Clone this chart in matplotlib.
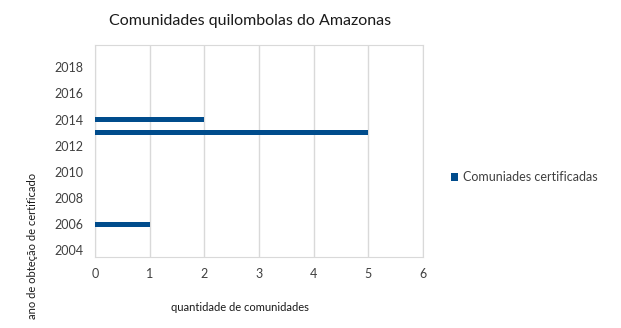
import matplotlib.pyplot as plt

# Quilombola communities certified per year
anos = [2006, 2013, 2014]
comunidades = [1, 5, 2]
anos_ticks = [2004, 2006, 2008, 2010, 2012, 2014, 2016, 2018]
x_ticks = [0, 1, 2, 3, 4, 5, 6]

plt.rcParams['font.family'] = ['Lato', 'DejaVu Sans']

fig = plt.figure(figsize=(6.21, 3.28), dpi=100)
ax = fig.add_axes([0.153, 0.2165, 0.528, 0.6463])

ax.barh(anos, comunidades, height=0.4, color='#004C8C',
        label='Comuniades certificadas', zorder=3)

ax.set_xlim(0, 6)
ax.set_ylim(2003.5, 2019.7)
ax.set_xticks(x_ticks)
ax.set_yticks(anos_ticks)
ax.tick_params(length=0, labelsize=9, colors='#404040', pad=8)
ax.grid(axis='x', color='#d9d9d9', linewidth=1, zorder=0)
for s in ax.spines.values():
    s.set_color('#d9d9d9')

fig.text(0.403, 0.935, 'Comunidades quilombolas do Amazonas',
         ha='center', va='center', fontsize=11.5, color='#1a1a1a')
fig.text(0.387, 0.063, 'quantidade de comunidades',
         ha='center', va='center', fontsize=8, color='#1a1a1a')
fig.text(0.053, 0.25, 'ano de obteção de certificado', rotation=90,
         ha='center', va='center', fontsize=8, color='#1a1a1a')

ax.legend(loc='center left', bbox_to_anchor=(1.05, 0.377), frameon=False,
          fontsize=9, handlelength=0.6, handleheight=0.6, handletextpad=0.4,
          labelcolor='#404040')

fig.savefig('out.png', dpi=100)
